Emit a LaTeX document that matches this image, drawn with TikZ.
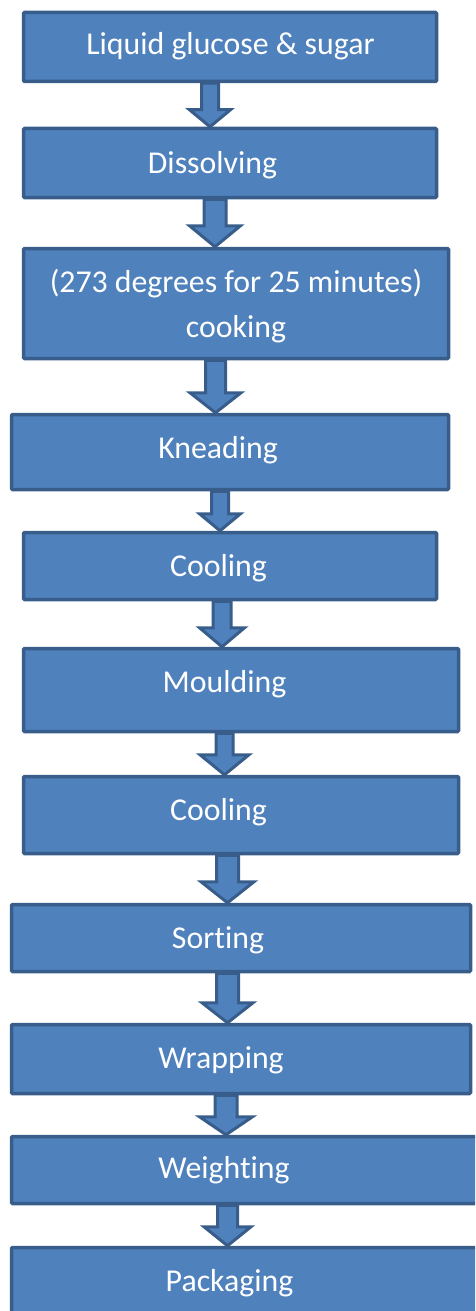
\documentclass[tikz,border=0pt]{standalone}
\usepackage{fontspec}
\setmainfont{Carlito}[Ligatures=NoCommon]
\usetikzlibrary{calc}

\definecolor{boxfill}{HTML}{4F81BD}
\definecolor{boxline}{HTML}{385D8A}

\tikzset{
  stepbox/.style={draw=boxline, fill=boxfill, line width=3.5pt, inner sep=0pt, rounded corners=1pt},
  steptext/.style={text=white, font=\fontsize{31.8}{45}\selectfont, inner sep=0pt, anchor=base, align=center},
  flowarrow/.style={draw=boxline, fill=boxfill, line width=3pt, line join=miter}
}

\begin{document}
\begin{tikzpicture}[x=1pt, y=-1pt]

    \useasboundingbox (0,0) rectangle (475,1311);
    \clip (0,0) rectangle (475,1311);

    % process steps
    \node[stepbox, minimum width=413pt, minimum height=69pt] (liquid)    at (230,47)    {};
    \node[stepbox, minimum width=413pt, minimum height=69pt] (dissolving) at (230,163)  {};
    \node[stepbox, minimum width=425pt, minimum height=110pt] (cooking)  at (236,303.5) {};
    \node[stepbox, minimum width=437pt, minimum height=75pt] (kneading)  at (230,452)   {};
    \node[stepbox, minimum width=413pt, minimum height=67pt] (cooling 1) at (230,566)   {};
    \node[stepbox, minimum width=435pt, minimum height=83pt] (moulding)  at (241,690)   {};
    \node[stepbox, minimum width=435pt, minimum height=77pt] (cooling 2) at (241,815)   {};
    \node[stepbox, minimum width=459pt, minimum height=67pt] (sorting)   at (241,938)   {};
    \node[stepbox, minimum width=459pt, minimum height=69pt] (wrapping)  at (241,1059)  {};
    \node[stepbox, minimum width=471pt, minimum height=67pt] (weighting) at (247,1170)  {};
    \node[stepbox, minimum width=471pt, minimum height=69pt] (packaging) at (247,1282)  {};

    % labels
    \node[steptext] (liquid text)     at (230.5,55)  {Liquid glucose \& sugar};
    \node[steptext] (dissolving text) at (212.5,173) {Dissolving};
    \node[steptext, anchor=center] (cooking text) at (236,306) {(273 degrees for 25 minutes)\\cooking};
    \node[steptext] (kneading text)   at (218,458)   {Kneading};
    \node[steptext] (cooling 1 text)  at (218.5,576) {Cooling};
    \node[steptext] (moulding text)   at (224.5,692) {Moulding};
    \node[steptext] (cooling 2 text)  at (218.5,820) {Cooling};
    \node[steptext] (sorting text)    at (218,948)   {Sorting};
    \node[steptext] (wrapping text)   at (221,1068)  {Wrapping};
    \node[steptext] (weighting text)  at (224,1178)  {Weighting};
    \node[steptext] (packaging text)  at (229.5,1291) {Packaging};

    % block arrows: from / to / x / shaft / head / head length
    \foreach \a/\b/\x/\s/\h/\l in {
        liquid/dissolving/210/8.5/20.5/17,
        dissolving/cooking/215/11/25.5/21,
        cooking/kneading/215.5/10/25.5/20,
        kneading/cooling 1/220/8.5/20.5/17,
        cooling 1/moulding/222/9/22.5/19,
        moulding/cooling 2/224.5/8.5/24.5/20,
        cooling 2/sorting/227.5/11/26.5/21,
        sorting/wrapping/227.5/11/25.5/20,
        wrapping/weighting/226/11/26.5/18,
        weighting/packaging/227.5/10/23.5/19}
    {
    \path (\x,0) coordinate (arrow x);
    \coordinate (arrow top) at (arrow x |- \a.south);
    \coordinate (arrow tip) at (arrow x |- \b.north);
    \draw[flowarrow] ($(arrow top)+(-\s,0)$) -- ($(arrow tip)+(-\s,-\l)$)
        -- ($(arrow tip)+(-\h,-\l)$) -- (arrow tip) -- ($(arrow tip)+(\h,-\l)$)
        -- ($(arrow tip)+(\s,-\l)$) -- ($(arrow top)+(\s,0)$) -- cycle;
    }

\end{tikzpicture}
\end{document}
